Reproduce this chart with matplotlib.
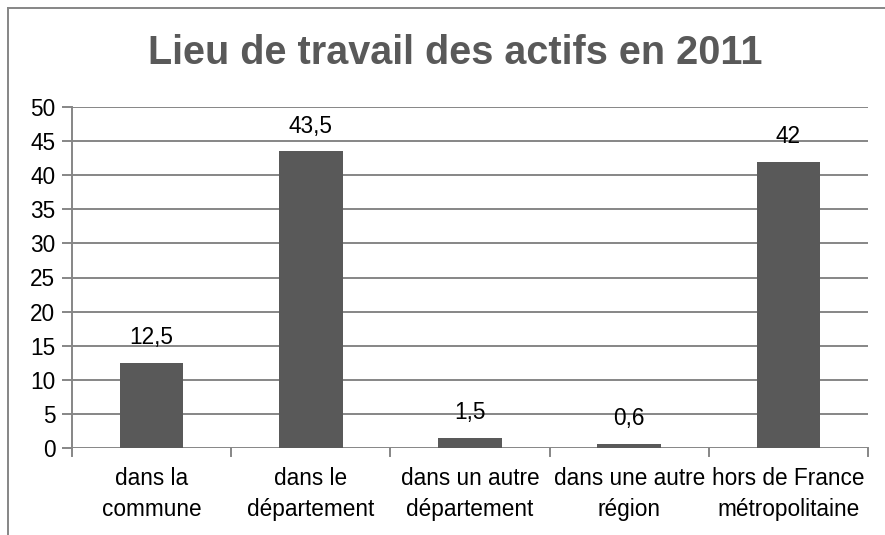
import matplotlib
matplotlib.use("Agg")
import matplotlib.pyplot as plt
from matplotlib.lines import Line2D

categories = ["dans la\ncommune", "dans le\ndépartement", "dans un autre\ndépartement",
              "dans une autre\nrégion", "hors de France\nmétropolitaine"]
values = [12.5, 43.5, 1.5, 0.6, 42]
value_labels = ["12,5", "43,5", "1,5", "0,6", "42"]
yticks = [0, 5, 10, 15, 20, 25, 30, 35, 40, 45, 50]

plt.rcParams['font.family'] = ['Liberation Sans', 'DejaVu Sans']

W, H = 885, 535
fig = plt.figure(figsize=(W / 100, H / 100), dpi=100)
ax = fig.add_axes([72 / W, 1 - 448 / H, (868 - 72) / W, (448 - 107) / H])

grid_c = '#868686'
fs = 16.3
x = list(range(len(categories)))
ax.bar(x, values, width=0.4, color='#595959', zorder=3)
ax.set_xlim(-0.5, len(categories) - 0.5)
ax.set_ylim(0, 50)
ax.set_yticks(yticks)
ax.set_yticklabels([str(t) for t in yticks], fontsize=fs)
for t in yticks:
    ax.axhline(t, color=grid_c, lw=1.4, zorder=1)

ax.set_xticks(x)
ax.set_xticklabels(categories, fontsize=fs, linespacing=1.42)
ax.tick_params(axis='x', length=0, pad=14)
ax.tick_params(axis='y', length=7, width=1.4, color=grid_c, pad=5)
# category boundary ticks
for b in [i - 0.5 for i in range(len(categories) + 1)]:
    ax.plot([b, b], [0, -1.2], color=grid_c, lw=1.4, clip_on=False, zorder=2)

for s in ['top', 'right', 'bottom']:
    ax.spines[s].set_visible(False)
ax.spines['left'].set_color(grid_c)
ax.spines['left'].set_linewidth(1.4)

for xi, v, lab in zip(x, values, value_labels):
    ax.annotate(lab, (xi, v), xytext=(0, 13.5), textcoords='offset points',
                ha='center', va='baseline', fontsize=fs, color='black', zorder=4)

fig.text(455 / W, 1 - 53 / H, "Lieu de travail des actifs en 2011", ha='center', va='center',
         fontsize=28.5, fontweight='bold', color='#595959')

# outer frame (top and left)
fig.add_artist(Line2D([8 / W, 1], [1 - 8 / H, 1 - 8 / H], color=grid_c, lw=1.4, transform=fig.transFigure))
fig.add_artist(Line2D([8 / W, 8 / W], [0, 1 - 8 / H], color=grid_c, lw=1.4, transform=fig.transFigure))

fig.savefig("out.png", dpi=100)
